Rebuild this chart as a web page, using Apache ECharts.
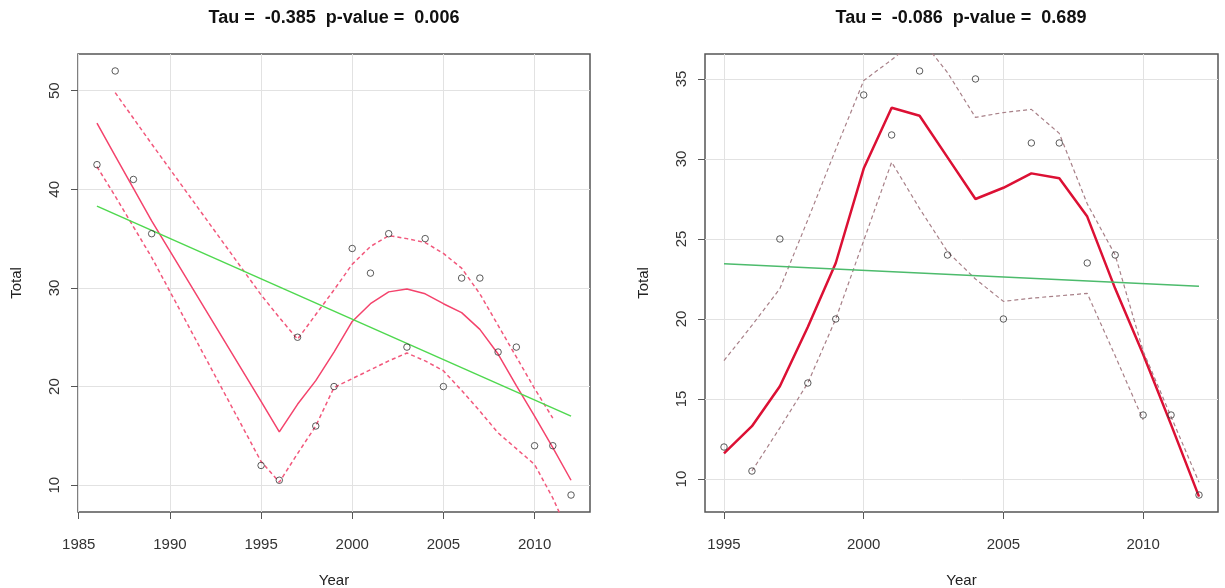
<!DOCTYPE html>
<html>
<head>
<meta charset="utf-8">
<title>Tau trend</title>
<script src="https://cdn.jsdelivr.net/npm/echarts@6/dist/echarts.min.js"></script>
<style>
html, body { margin: 0; padding: 0; background: #fff; }
#main { width: 1225px; height: 588px; }
</style>
</head>
<body>
<div id="main"></div>
<script>
// left panel: all years
var leftYears = [1986, 1987, 1988, 1989, 1995, 1996, 1997, 1998, 1999, 2000, 2001, 2002, 2003, 2004, 2005, 2006, 2007, 2008, 2009, 2010, 2011, 2012];
var leftTotal = [42.5, 52, 41, 35.5, 12, 10.5, 25, 16, 20, 34, 31.5, 35.5, 24, 35, 20, 31, 31, 23.5, 24, 14, 14, 9];
var leftSmooth = [46.7, 43.4, 40.1, 36.8, 18.5, 15.4, 18.2, 20.6, 23.5, 26.6, 28.4, 29.6, 29.9, 29.4, 28.4, 27.5, 25.8, 23.3, 20.1, 17.0, 13.8, 10.5];
var leftUpperYears = [1987, 1988, 1989, 1995, 1996, 1997, 1998, 1999, 2000, 2001, 2002, 2003, 2004, 2005, 2006, 2007, 2008, 2009, 2010, 2011];
var leftUpper = [49.8, 47.2, 44.6, 29.3, 27.0, 24.8, 27.3, 29.8, 32.4, 34.2, 35.3, 35.0, 34.6, 33.5, 32.0, 29.4, 26.2, 23.0, 19.8, 16.8];
var leftLower = [42.3, 39.3, 36.2, 33.1, 12.4, 10.3, 13.2, 16.0, 19.9, 20.8, 21.7, 22.6, 23.4, 22.6, 21.6, 19.6, 17.5, 15.3, 13.7, 12.1, 8.7, 4.6];
var leftTrendYears = [1986, 2012];
var leftTrend = [38.3, 17.0];

// right panel: 1995 onwards
var rightYears = [1995, 1996, 1997, 1998, 1999, 2000, 2001, 2002, 2003, 2004, 2005, 2006, 2007, 2008, 2009, 2010, 2011, 2012];
var rightTotal = [12, 10.5, 25, 16, 20, 34, 31.5, 35.5, 24, 35, 20, 31, 31, 23.5, 24, 14, 14, 9];
var rightSmooth = [11.6, 13.3, 15.8, 19.5, 23.5, 29.4, 33.2, 32.7, 30.1, 27.5, 28.2, 29.1, 28.8, 26.4, 21.9, 17.8, 13.4, 8.9];
var rightUpper = [17.4, 19.6, 21.9, 26.2, 30.6, 34.9, 36.2, 37.6, 35.4, 32.6, 32.9, 33.1, 31.6, 27.2, 24.0, 18.0, 13.9, 9.8];
var rightLowerYears = [1996, 1997, 1998, 1999, 2000, 2001, 2002, 2003, 2004, 2005, 2006, 2007, 2008, 2009, 2010];
var rightLower = [10.5, 13.2, 16.0, 20.0, 24.9, 29.8, 26.9, 24.2, 22.5, 21.1, 21.3, 21.45, 21.6, 17.7, 13.7];
var rightTrendYears = [1995, 2012];
var rightTrend = [23.45, 22.05];

// tick labels
var leftXTicks = [1985, 1990, 1995, 2000, 2005, 2010];
var leftYTicks = [10, 20, 30, 40, 50];
var rightXTicks = [1995, 2000, 2005, 2010];
var rightYTicks = [10, 15, 20, 25, 30, 35];

var titles = ['Tau =  -0.385  p-value =  0.006', 'Tau =  -0.086  p-value =  0.689'];

var FONT = '"Liberation Sans", Arial, Helvetica, sans-serif';

function zip(xs, ys) {
	var out = [];
	for (var i = 0; i < xs.length; i++) {
		out.push([xs[i], ys[i]]);
	}
	return out;
}

// plain numbers, no thousands separator
function plain(v) {
	return String(v);
}

function xAxisFor(idx, min, max, ticks) {
	return {
		type: 'value', gridIndex: idx, min: min, max: max,
		name: 'Year', nameLocation: 'middle', nameGap: 61,
		nameTextStyle: { fontSize: 15, color: '#222', fontFamily: FONT },
		axisLine: { show: false },
		axisTick: { show: true, length: 7, customValues: ticks, lineStyle: { color: '#555' } },
		axisLabel: { customValues: ticks, formatter: plain, fontSize: 15, color: '#333', margin: 25, fontFamily: FONT },
		splitLine: { show: true, lineStyle: { color: '#e2e2e2', width: 1 } }
	};
}

function yAxisFor(idx, min, max, ticks) {
	return {
		type: 'value', gridIndex: idx, min: min, max: max,
		name: 'Total', nameLocation: 'middle', nameGap: 54,
		nameTextStyle: { fontSize: 15, color: '#222', fontFamily: FONT },
		axisLine: { show: false },
		axisTick: { show: true, length: 7, customValues: ticks, lineStyle: { color: '#555' } },
		axisLabel: { customValues: ticks, formatter: plain, rotate: 90, fontSize: 15, color: '#333', margin: 16, fontFamily: FONT },
		splitLine: { show: true, lineStyle: { color: '#e2e2e2', width: 1 } }
	};
}

function pointSeries(idx, data) {
	return {
		type: 'scatter', xAxisIndex: idx, yAxisIndex: idx, data: data,
		symbol: 'circle', symbolSize: 6.5, z: 5,
		itemStyle: { color: 'rgba(0,0,0,0)', borderColor: '#333', borderWidth: 1 }
	};
}

function lineSeries(idx, data, color, width, dashed) {
	return {
		type: 'line', xAxisIndex: idx, yAxisIndex: idx, data: data,
		showSymbol: false, symbol: 'none', clip: true, z: 3,
		lineStyle: { color: color, width: width, type: dashed ? [4, 3] : 'solid' }
	};
}

var myChart = echarts.init(document.getElementById('main'), null, { renderer: 'canvas' });

var option = {
	backgroundColor: '#ffffff',
	animation: false,
	title: [
		{ text: titles[0], left: 334, top: 9, padding: 0, textAlign: 'center',
			textStyle: { fontSize: 18, fontWeight: 'bold', color: '#111', fontFamily: FONT } },
		{ text: titles[1], left: 961, top: 9, padding: 0, textAlign: 'center',
			textStyle: { fontSize: 18, fontWeight: 'bold', color: '#111', fontFamily: FONT } }
	],
	grid: [
		{ left: 78, top: 54, width: 512, height: 458, show: true, outerBoundsMode: 'none', containLabel: false,
			borderColor: '#555', borderWidth: 1.5, backgroundColor: 'transparent' },
		{ left: 705, top: 54, width: 513, height: 458, show: true, outerBoundsMode: 'none', containLabel: false,
			borderColor: '#555', borderWidth: 1.5, backgroundColor: 'transparent' }
	],
	xAxis: [
		xAxisFor(0, 1984.96, 2013.04, leftXTicks),
		xAxisFor(1, 1994.32, 2012.68, rightXTicks)
	],
	yAxis: [
		yAxisFor(0, 7.28, 53.72, leftYTicks),
		yAxisFor(1, 7.94, 36.56, rightYTicks)
	],
	series: [
		pointSeries(0, zip(leftYears, leftTotal)),
		lineSeries(0, zip(leftYears, leftSmooth), '#f4436c', 1.5, false),
		lineSeries(0, zip(leftUpperYears, leftUpper), '#f2587c', 1.5, true),
		lineSeries(0, zip(leftYears, leftLower), '#f2587c', 1.5, true),
		lineSeries(0, zip(leftTrendYears, leftTrend), '#4fd84f', 1.5, false),

		pointSeries(1, zip(rightYears, rightTotal)),
		lineSeries(1, zip(rightYears, rightSmooth), '#dc1034', 2.5, false),
		lineSeries(1, zip(rightYears, rightUpper), '#a88088', 1.2, true),
		lineSeries(1, zip(rightLowerYears, rightLower), '#a88088', 1.2, true),
		lineSeries(1, zip(rightTrendYears, rightTrend), '#4cbb6c', 1.5, false)
	]
};
myChart.setOption(option);
</script>
</body>
</html>
